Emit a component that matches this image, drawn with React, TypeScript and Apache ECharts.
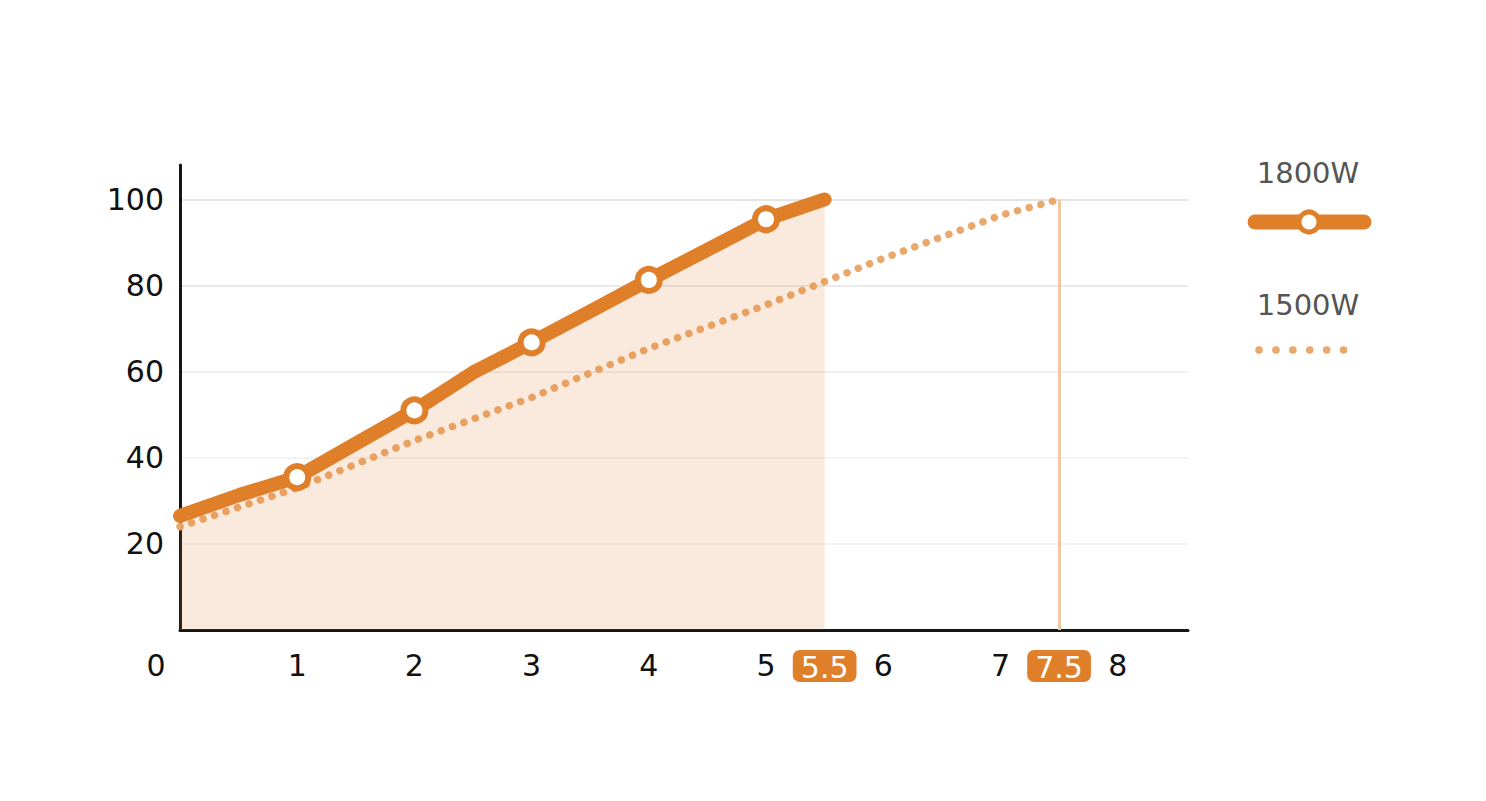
import { useEffect, useRef } from "react";
import * as echarts from "echarts";

const seriesNames = ["1800W", "1500W"];

// 1800W curve (hours, percent)
const fastX = [0, 0.5, 1, 1.5, 2, 2.5, 3, 3.5, 4, 4.5, 5, 5.5];
const fastY = [26.5, 31.3, 35.5, 43.3, 51, 59.8, 66.8, 74, 81.3, 88.3, 95.4, 100];
// points that carry a ring marker
const fastMarked = [1, 2, 3, 4, 5];

// 1500W curve
const slowX = [0, 1, 2, 3, 4, 5, 6, 7, 7.5];
const slowY = [24, 33, 44, 54, 65.4, 75.5, 86.3, 96.3, 100];

const xTicks = [0, 1, 2, 3, 4, 5, 6, 7, 8];
const xHighlights = [5.5, 7.5];
const yTicks = [20, 40, 60, 80, 100];

const ORANGE = "#e07f2a";
const LIGHT = "#eaa86c";
const FONT = "'DejaVu Sans', sans-serif";
const FS = 30;

const App: React.FC = () => {
  const chartRef = useRef<HTMLDivElement>(null);

  useEffect(() => {
    document.body.style.margin = "0";
    const chart = echarts.init(chartRef.current, null, { renderer: "svg" });

    const fastData = fastX.map((x, i) => ({
      value: [x, fastY[i]],
      symbol: fastMarked.includes(x) ? "circle" : "none",
    }));
    const slowData = slowX.map((x, i) => [x, slowY[i]]);

    const options = {
      animation: false,
      grid: { left: 180, right: 298, top: 165, bottom: 171 },
      xAxis: {
        type: "value",
        min: 0,
        max: 8.6,
        axisLine: { lineStyle: { color: "#161616", width: 3 } },
        axisTick: { show: false },
        splitLine: { show: false },
        axisLabel: {
          customValues: [...xTicks, ...xHighlights],
          margin: 20,
          color: "#111",
          fontSize: FS,
          fontFamily: FONT,
          formatter: (v: number) => {
            if (xHighlights.includes(v)) return `{hl|${v}}`;
            if (v === 0) return "{z|0}";
            return `${v}`;
          },
          rich: {
            hl: {
              backgroundColor: ORANGE,
              color: "#fff",
              borderRadius: 7,
              padding: [2, 8, 0, 8],
              fontSize: FS,
              fontFamily: FONT,
            },
            z: {
              padding: [0, 48, 0, 0],
              fontSize: FS,
              color: "#111",
              fontFamily: FONT,
            },
          },
        },
      },
      yAxis: {
        type: "value",
        min: 0,
        max: 108,
        interval: 20,
        axisLine: { show: true, lineStyle: { color: "#161616", width: 3 } },
        axisTick: { show: false },
        splitLine: {
          lineStyle: {
            color: ["transparent", "#f3f3f3", "#f3f3f3", "#efefef", "#eaeaea", "#e4e4e4", "transparent"],
            width: 2,
          },
        },
        axisLabel: {
          margin: 16,
          color: "#111",
          fontSize: FS,
          fontFamily: FONT,
          formatter: (v: number) => (yTicks.includes(v) ? `${v}` : ""),
        },
      },
      series: [
        {
          name: seriesNames[1],
          type: "line",
          data: slowData,
          showSymbol: false,
          z: 2,
          lineStyle: { color: LIGHT, width: 7.5, type: [0.1, 12], cap: "round" },
          markLine: {
            silent: true,
            symbol: "none",
            label: { show: false },
            lineStyle: { color: "#f0c9a2", width: 3, type: "solid" },
            data: [[{ coord: [7.5, 0] }, { coord: [7.5, 100] }]],
          },
        },
        {
          name: seriesNames[0],
          type: "line",
          data: fastData,
          z: 3,
          symbolSize: 22,
          itemStyle: { color: "#fff", borderColor: ORANGE, borderWidth: 6 },
          lineStyle: { color: ORANGE, width: 14, cap: "round", join: "round" },
          areaStyle: { color: "rgba(224,127,42,0.23)", origin: "start" },
        },
      ],
      graphic: [
        {
          type: "text",
          x: 1308,
          y: 173,
          style: {
            text: seriesNames[0],
            fill: "#555",
            font: `${FS - 1}px ${FONT}`,
            align: "center",
            verticalAlign: "middle",
          },
        },
        {
          type: "line",
          shape: { x1: 1255, y1: 222, x2: 1364, y2: 222 },
          style: { stroke: ORANGE, lineWidth: 15, lineCap: "round" },
        },
        {
          type: "circle",
          shape: { cx: 1309, cy: 222, r: 10 },
          style: { fill: "#fff", stroke: ORANGE, lineWidth: 5 },
        },
        {
          type: "text",
          x: 1308,
          y: 305,
          style: {
            text: seriesNames[1],
            fill: "#555",
            font: `${FS - 1}px ${FONT}`,
            align: "center",
            verticalAlign: "middle",
          },
        },
        {
          type: "line",
          shape: { x1: 1259, y1: 350, x2: 1360, y2: 350 },
          style: { stroke: LIGHT, lineWidth: 7.5, lineCap: "round", lineDash: [0.1, 16.8] },
        },
      ],
    };

    chart.setOption(options);

    const resizeChart = () => chart.resize();
    window.addEventListener("resize", resizeChart);
    return () => {
      window.removeEventListener("resize", resizeChart);
      chart.dispose();
    };
  }, []);

  return <div ref={chartRef} style={{ width: 1486, height: 801 }} />;
};

export default App;
